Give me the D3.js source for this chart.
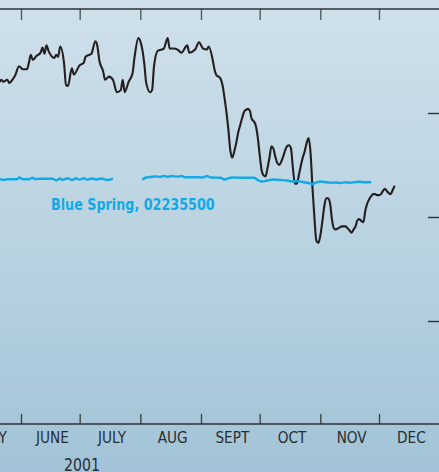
<!DOCTYPE html>
<html>
<head>
<meta charset="utf-8">
<script src="https://cdn.jsdelivr.net/npm/d3@7"></script>
<style>
  html, body { margin: 0; padding: 0; overflow: hidden; background: #b9d3e2; }
  svg { display: block; }
  text { font-family: "Liberation Sans Narrow", "Arial Narrow", "DejaVu Sans Condensed", sans-serif; }
</style>
</head>
<body>
<svg id="chart"></svg>
<script>
// month labels along the bottom, the year under them
const monthLabels = ["MAY", "JUNE", "JULY", "AUG", "SEPT", "OCT", "NOV", "DEC"];
const yearLabel = "2001";
const levelTicks = [10, 20, 30];
const springName = "Blue Spring, 02235500";

// black hydrograph
const riverDates = ["2001-05-19","2001-05-21","2001-05-22","2001-05-23","2001-05-25","2001-05-26","2001-05-28","2001-05-29","2001-05-31",
  "2001-06-02","2001-06-04","2001-06-05","2001-06-06","2001-06-07","2001-06-09","2001-06-11","2001-06-12","2001-06-13","2001-06-14","2001-06-15",
  "2001-06-18","2001-06-19","2001-06-20","2001-06-21","2001-06-23","2001-06-24","2001-06-25","2001-06-27","2001-06-28",
  "2001-07-01","2001-07-03","2001-07-04","2001-07-06","2001-07-07","2001-07-09","2001-07-10","2001-07-11","2001-07-13","2001-07-14","2001-07-16",
  "2001-07-18","2001-07-20","2001-07-22","2001-07-23","2001-07-24","2001-07-26","2001-07-28","2001-07-29","2001-07-31",
  "2001-08-01","2001-08-03","2001-08-04","2001-08-06","2001-08-07","2001-08-08","2001-08-10","2001-08-12","2001-08-13","2001-08-15","2001-08-16",
  "2001-08-18","2001-08-20","2001-08-22","2001-08-25","2001-08-26","2001-08-29","2001-08-31",
  "2001-09-02","2001-09-04","2001-09-05","2001-09-07","2001-09-08","2001-09-09","2001-09-10","2001-09-11","2001-09-12","2001-09-13","2001-09-14",
  "2001-09-15","2001-09-16","2001-09-17","2001-09-18","2001-09-19","2001-09-20","2001-09-21","2001-09-22","2001-09-23","2001-09-24","2001-09-25",
  "2001-09-26","2001-09-27","2001-09-28","2001-09-29","2001-09-30",
  "2001-10-01","2001-10-02","2001-10-03","2001-10-04","2001-10-05","2001-10-06","2001-10-07","2001-10-08","2001-10-09","2001-10-10","2001-10-11",
  "2001-10-12","2001-10-13","2001-10-14","2001-10-15","2001-10-16","2001-10-17","2001-10-18","2001-10-19","2001-10-20","2001-10-21","2001-10-22",
  "2001-10-23","2001-10-24","2001-10-25","2001-10-26","2001-10-27","2001-10-28","2001-10-29","2001-10-30","2001-10-31",
  "2001-11-01","2001-11-02","2001-11-03","2001-11-04","2001-11-05","2001-11-06","2001-11-07","2001-11-08","2001-11-09","2001-11-10","2001-11-11",
  "2001-11-12","2001-11-14","2001-11-15","2001-11-16","2001-11-17","2001-11-18","2001-11-19","2001-11-20","2001-11-21","2001-11-22","2001-11-23",
  "2001-11-24","2001-11-25","2001-11-26","2001-11-27","2001-11-28","2001-11-29","2001-11-30",
  "2001-12-01","2001-12-02","2001-12-03","2001-12-04","2001-12-05","2001-12-06","2001-12-07","2001-12-08","2001-12-09"];
const riverValues = [33.2,33.0,33.2,33.0,33.2,32.9,33.3,33.6,34.5,
  34.2,34.2,34.8,35.6,35.1,35.5,35.8,36.3,35.7,36.5,36.0,
  35.3,35.6,35.4,36.4,34.8,32.7,32.6,34.3,33.7,
  34.6,34.8,35.4,35.6,35.7,36.9,36.5,35.1,34.0,33.2,33.5,
  33.2,32.0,32.2,33.2,32.0,33.0,33.8,35.3,37.2,
  36.9,34.8,32.9,32.0,32.2,34.5,36.0,36.1,36.2,37.2,36.2,
  36.2,36.1,35.8,36.5,35.8,36.1,36.8,
  36.2,36.1,36.4,35.1,34.1,33.6,33.5,33.3,32.7,31.5,30.1,
  28.4,26.4,25.7,26.3,27.1,28.1,28.8,29.5,30.1,30.3,30.4,
  30.2,29.4,29.2,28.8,27.7,
  26.0,24.5,24.0,23.9,24.7,25.7,26.8,26.6,25.8,25.2,25.0,
  25.3,25.8,26.4,26.8,26.9,26.6,24.7,23.2,23.2,24.0,24.9,
  25.7,26.3,27.1,27.6,26.2,22.8,19.9,17.7,17.5,
  18.2,19.5,21.0,21.8,21.8,21.3,19.7,18.9,18.8,18.9,19.0,
  19.1,19.1,18.9,18.7,18.5,18.8,19.1,19.7,19.8,19.6,19.5,
  20.6,21.3,21.7,22.0,22.2,22.2,22.1,
  22.1,22.2,22.5,22.7,22.5,22.3,22.2,22.6,23.0];

// blue spring line, null = missing record
const springDates = ["2001-05-19","2001-05-21","2001-05-23","2001-05-25","2001-05-28","2001-05-30","2001-05-31",
  "2001-06-02","2001-06-05","2001-06-07","2001-06-08","2001-06-11","2001-06-14","2001-06-17","2001-06-19","2001-06-21","2001-06-22",
  "2001-06-25","2001-06-27","2001-06-29","2001-07-01","2001-07-03","2001-07-05","2001-07-07","2001-07-10","2001-07-12","2001-07-14",
  "2001-07-15","2001-07-18","2001-07-25",
  "2001-08-02","2001-08-04","2001-08-06","2001-08-09","2001-08-11","2001-08-13","2001-08-15","2001-08-17","2001-08-20","2001-08-22",
  "2001-08-24","2001-08-27","2001-08-30","2001-09-02","2001-09-04","2001-09-06","2001-09-11","2001-09-13","2001-09-17","2001-09-21",
  "2001-09-25","2001-09-28","2001-09-30","2001-10-02","2001-10-05","2001-10-08","2001-10-11","2001-10-15","2001-10-18","2001-10-20",
  "2001-10-23","2001-10-26","2001-10-28","2001-10-30","2001-11-01","2001-11-03","2001-11-06","2001-11-09","2001-11-11","2001-11-14",
  "2001-11-16","2001-11-19","2001-11-21","2001-11-24","2001-11-27"];
const springValues = [23.68,23.65,23.56,23.63,23.63,23.63,23.80,
  23.63,23.63,23.78,23.65,23.68,23.68,23.68,23.53,23.70,23.56,
  23.72,23.56,23.72,23.59,23.72,23.59,23.70,23.61,23.70,23.61,
  23.56,23.70,null,
  23.59,23.80,23.85,23.91,23.85,23.94,23.85,23.94,23.88,23.94,
  23.82,23.82,23.82,23.80,23.94,23.80,23.77,23.61,23.80,23.78,
  23.77,23.77,23.56,23.41,23.51,23.61,23.56,23.51,23.41,23.46,
  23.37,23.27,23.17,23.32,23.41,23.37,23.30,23.32,23.27,23.34,
  23.29,23.37,23.39,23.34,23.37];

const W = 439, H = 472;
const parse = d3.timeParse("%Y-%m-%d");

const svg = d3.select("#chart").attr("width", W).attr("height", H);

const defs = svg.append("defs");
const bg = defs.append("linearGradient").attr("id", "bgGrad")
  .attr("x1", "0%").attr("x2", "0%").attr("y1", "0%").attr("y2", "100%");
bg.append("stop").attr("offset", "0%").attr("stop-color", "#cfe0ea");
bg.append("stop").attr("offset", "50%").attr("stop-color", "#bad3e1");
bg.append("stop").attr("offset", "100%").attr("stop-color", "#a2c3d7");
svg.append("rect").attr("width", W).attr("height", H).attr("fill", "url(#bgGrad)");

const x = d3.scaleTime()
  .domain([parse("2001-06-01"), parse("2001-12-01")])
  .range([21, 379]);
const y = d3.scaleLinear().domain([0, 40]).range([425, 9]);

const monthStarts = d3.timeMonth.range(parse("2001-06-01"), parse("2001-12-02"));

// top frame with ticks pointing down
svg.append("g")
  .attr("transform", "translate(0," + y(40) + ")")
  .call(d3.axisBottom(x).tickValues(monthStarts).tickSize(11).tickFormat(""))
  .call(g => g.select(".domain").remove())
  .call(g => g.selectAll(".tick line").attr("stroke", "#55595c").attr("stroke-width", 1.4));
svg.append("line").attr("x1", 0).attr("x2", W).attr("y1", y(40)).attr("y2", y(40))
  .attr("stroke", "#2e3133").attr("stroke-width", 1.6);

// bottom frame with ticks pointing up
const yBottom = 424;
svg.append("g")
  .attr("transform", "translate(0," + yBottom + ")")
  .call(d3.axisTop(x).tickValues(monthStarts).tickSize(10).tickFormat(""))
  .call(g => g.select(".domain").remove())
  .call(g => g.selectAll(".tick line").attr("stroke", "#3a3d40").attr("stroke-width", 1.3));
svg.append("line").attr("x1", 0).attr("x2", W).attr("y1", yBottom).attr("y2", yBottom)
  .attr("stroke", "#2e3133").attr("stroke-width", 1.6);

// right side ticks
svg.append("g")
  .attr("transform", "translate(" + W + ",0)")
  .call(d3.axisLeft(y).tickValues(levelTicks).tickSize(11).tickFormat(""))
  .call(g => g.select(".domain").remove())
  .call(g => g.selectAll(".tick line").attr("stroke", "#2e3133").attr("stroke-width", 1.4));

// month names centred in each month, squeezed a little like a condensed face
const labelMonths = d3.timeMonth.range(parse("2001-05-01"), parse("2002-01-01"));
svg.append("g").selectAll("text")
  .data(labelMonths)
  .join("text")
  .attr("transform", d => "translate(" + ((x(d) + x(d3.timeMonth.offset(d, 1))) / 2 + 2) + ",443) scale(0.95,1)")
  .attr("text-anchor", "middle")
  .attr("font-size", 16)
  .attr("fill", "#2a2d30")
  .text((d, i) => monthLabels[i]);

svg.append("text")
  .attr("transform", "translate(82,471) scale(0.85,1)")
  .attr("text-anchor", "middle")
  .attr("font-size", 18.5)
  .attr("fill", "#2a2d30")
  .text(yearLabel);

const river = riverDates.map((d, i) => ({ date: parse(d), value: riverValues[i] }));
const spring = springDates.map((d, i) => ({ date: parse(d), value: springValues[i] }));

const line = d3.line()
  .defined(d => d.value != null)
  .x(d => x(d.date))
  .y(d => y(d.value))
  .curve(d3.curveMonotoneX);

svg.append("path")
  .datum(river)
  .attr("d", line)
  .attr("fill", "none")
  .attr("stroke", "#231f20")
  .attr("stroke-width", 2.1)
  .attr("stroke-linejoin", "round");

svg.append("path")
  .datum(spring)
  .attr("d", line)
  .attr("fill", "none")
  .attr("stroke", "#12aae6")
  .attr("stroke-width", 2.4)
  .attr("stroke-linejoin", "round");

svg.append("text")
  .attr("transform", "translate(51,210) scale(0.86,1)")
  .attr("font-size", 16.5)
  .attr("font-weight", "bold")
  .attr("fill", "#12aae6")
  .text(springName);
</script>
</body>
</html>
